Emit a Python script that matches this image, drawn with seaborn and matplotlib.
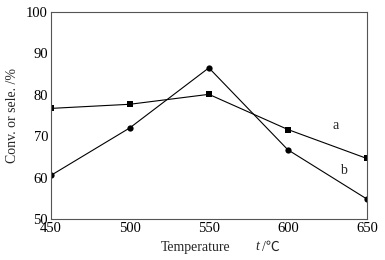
import matplotlib
matplotlib.use("Agg")
import matplotlib.pyplot as plt
import seaborn as sns
import pandas as pd

temps = [450, 500, 550, 600, 650]
series_a = [76.7, 77.7, 80.1, 71.6, 64.6]
series_b = [60.5, 72.0, 86.5, 66.7, 54.8]
x_ticks = [450, 500, 550, 600, 650]
y_ticks = [50, 60, 70, 80, 90, 100]

sns.set_theme(style="white")
plt.rcParams['font.family'] = ['Liberation Serif', 'Noto Sans CJK SC', 'DejaVu Sans']

df = pd.DataFrame({
    "T": temps * 2,
    "v": series_a + series_b,
    "s": ["a"] * len(temps) + ["b"] * len(temps),
})

fig = plt.figure(figsize=(3.85, 2.6), dpi=100)
ax = fig.add_axes([0.132, 0.158, 0.821, 0.796])

sns.lineplot(data=df, x="T", y="v", style="s", markers={"a": "s", "b": "o"},
             dashes=False, color="black", linewidth=0.8, markersize=4.5,
             markeredgewidth=0, legend=False, ax=ax)

ax.set_xlim(450, 650)
ax.set_ylim(50, 100)
ax.set_xticks(x_ticks)
ax.set_yticks(y_ticks)
ax.tick_params(direction="in", length=3, width=0.6, labelsize=10.5, colors="black", pad=2)
for sp in ax.spines.values():
    sp.set_color("#555555")
    sp.set_linewidth(0.8)

ax.set_ylabel("Conv. or sele. /%", fontsize=10, labelpad=5)
ax.set_xlabel("")

fs = 10
fig.text(230 / 385, 1 - 247 / 260, "Temperature", fontsize=fs, ha="right", va="center")
fig.text(257 / 385, 1 - 247 / 260, "t", fontsize=fs, style="italic", ha="center", va="center")
fig.text(262 / 385, 1 - 247 / 260, "/℃", fontsize=fs, ha="left", va="center",
         family=['Liberation Serif', 'Noto Sans CJK SC', 'DejaVu Sans'])

ax.text(630, 72.6, "a", fontsize=10, ha="center", va="center")
ax.text(635, 61.6, "b", fontsize=10, ha="center", va="center")

fig.savefig("out.png", dpi=100)
